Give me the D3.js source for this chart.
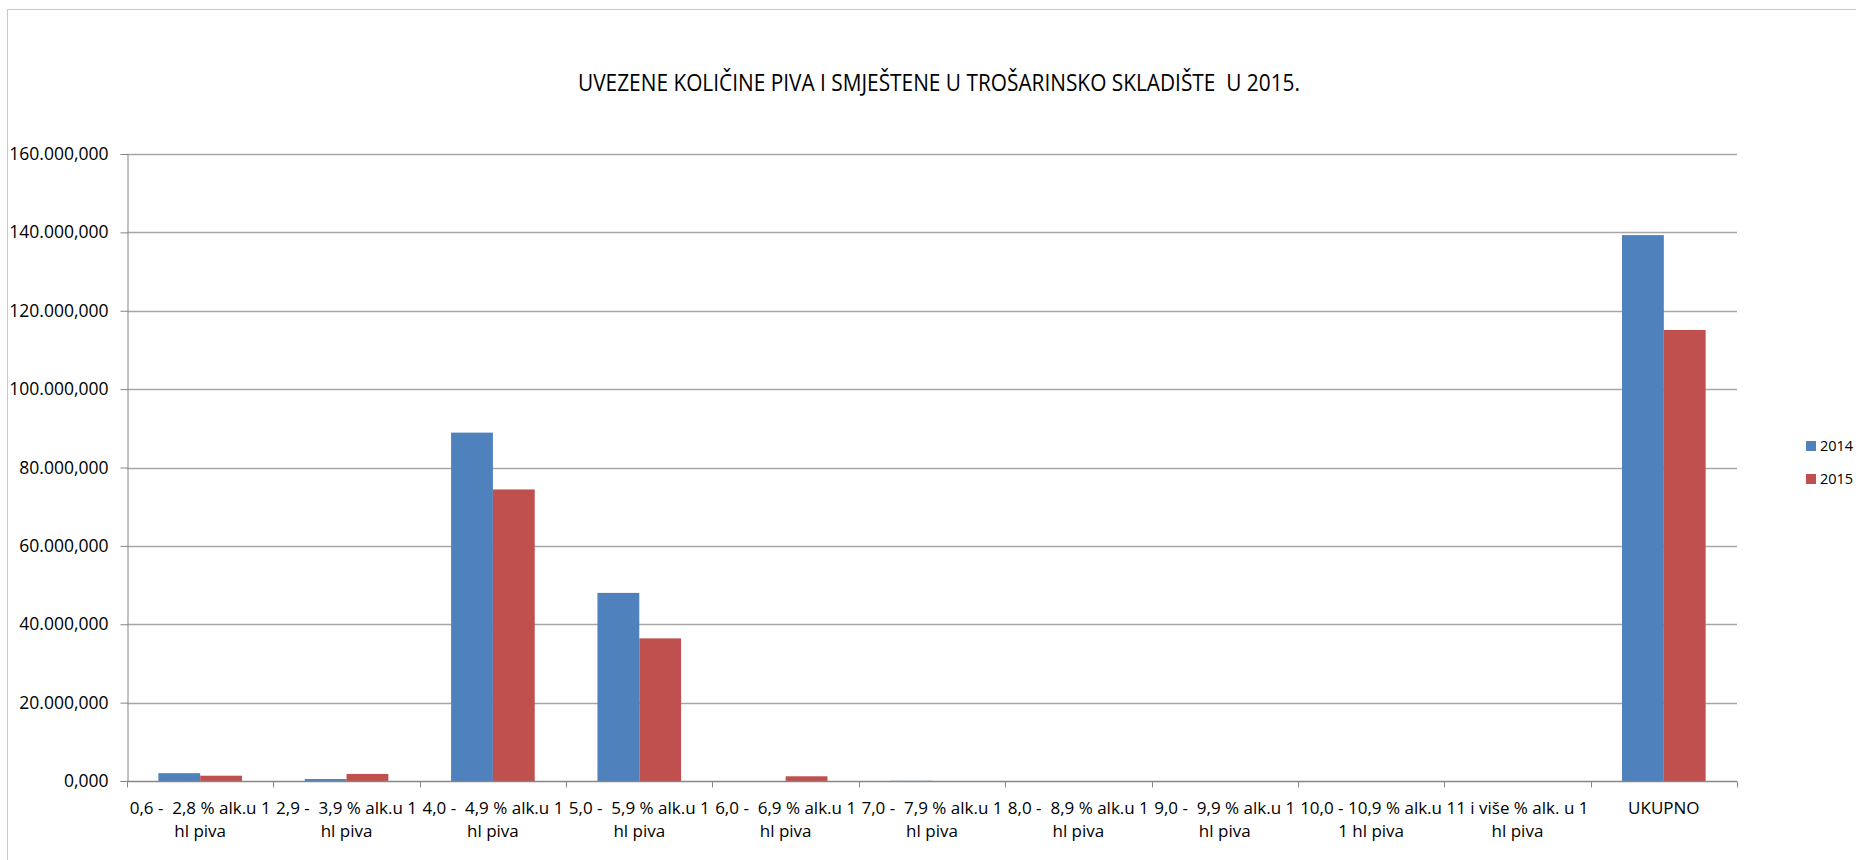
<!DOCTYPE html>
<html>
<head>
<meta charset="utf-8">
<script src="https://cdn.jsdelivr.net/npm/d3@7"></script>
<style>
  body { margin: 0; background: #fff; }
  svg { display: block; font-family: "Open Sans", sans-serif; }
</style>
</head>
<body>
<svg width="1856" height="860"></svg>
<script>
// Data
const categories = [
  "0,6 -  2,8 % alk.u 1\nhl piva",
  "2,9 -  3,9 % alk.u 1\nhl piva",
  "4,0 -  4,9 % alk.u 1\nhl piva",
  "5,0 -  5,9 % alk.u 1\nhl piva",
  "6,0 -  6,9 % alk.u 1\nhl piva",
  "7,0 -  7,9 % alk.u 1\nhl piva",
  "8,0 -  8,9 % alk.u 1\nhl piva",
  "9,0 -  9,9 % alk.u 1\nhl piva",
  "10,0 - 10,9 % alk.u\n1 hl piva",
  "11 i više % alk. u 1\nhl piva",
  "UKUPNO"
];
const series = ["2014", "2015"];
const values2014 = [2000, 500, 88900, 48000, 0, 50, 0, 0, 0, 0, 139300];
const values2015 = [1350, 1800, 74400, 36400, 1200, 0, 0, 0, 0, 0, 115100];
const yTicks = [0, 20000, 40000, 60000, 80000, 100000, 120000, 140000, 160000];
const colors = ["#4F81BD", "#C0504D"];
const title = "UVEZENE KOLIČINE PIVA I SMJEŠTENE U TROŠARINSKO SKLADIŠTE  U 2015.";

const svg = d3.select("svg");
const margin = { top: 154, right: 119, bottom: 79, left: 127 },
  width = 1856, height = 860;

// outer chart border
svg.append("rect")
  .attr("x", 7.5).attr("y", 9.5)
  .attr("width", 1900).attr("height", 900)
  .attr("fill", "none").attr("stroke", "#c8c8c8");

// title
svg.append("text")
  .attr("x", 578).attr("y", 91)
  .attr("textLength", 722).attr("lengthAdjust", "spacingAndGlyphs")
  .attr("font-size", 24).attr("fill", "#000")
  .style("white-space", "pre")
  .text(title);

// scales
const x = d3.scaleBand()
  .domain(categories)
  .range([margin.left, width - margin.right])
  .paddingInner(0).paddingOuter(0);

const xSub = d3.scaleBand()
  .domain(series)
  .range([0, x.bandwidth()])
  .paddingInner(0).paddingOuter(0.75);

const y = d3.scaleLinear()
  .domain([0, 160000])
  .range([height - margin.bottom, margin.top]);

const hr = d3.formatLocale({ decimal: ",", thousands: ".", grouping: [3], currency: ["", ""] });
const fmt = hr.format(",.3f");

// gridlines
svg.append("g")
  .selectAll("line")
  .data(yTicks.slice(1))
  .join("line")
  .attr("x1", margin.left).attr("x2", width - margin.right)
  .attr("y1", d => Math.round(y(d)) + 0.5).attr("y2", d => Math.round(y(d)) + 0.5)
  .attr("stroke", "#a6a6a6").attr("stroke-width", 1.3);

// y axis
const yAxis = svg.append("g")
  .attr("transform", `translate(${margin.left + 0.5},0)`)
  .call(d3.axisLeft(y).tickValues(yTicks).tickFormat(fmt).tickSize(7).tickPadding(12));
yAxis.select(".domain").attr("stroke", "#868686");
yAxis.selectAll(".tick line").attr("stroke", "#868686");
yAxis.selectAll("text").attr("font-size", 17.5).attr("fill", "#000")
  .attr("font-family", "Open Sans");

// bars
const rows = categories.map((c, i) => ({ cat: c, vals: [values2014[i], values2015[i]] }));
svg.append("g")
  .selectAll("g")
  .data(rows)
  .join("g")
  .attr("transform", d => `translate(${x(d.cat)},0)`)
  .selectAll("rect")
  .data(d => d.vals.map((v, j) => ({ key: series[j], v, j })))
  .join("rect")
  .attr("x", d => xSub(d.key))
  .attr("width", xSub.bandwidth())
  .attr("y", d => y(d.v))
  .attr("height", d => y(0) - y(d.v))
  .attr("fill", d => colors[d.j]);

// x axis
const xAxisG = svg.append("g")
  .attr("transform", `translate(0,${height - margin.bottom + 0.5})`);
xAxisG.append("line")
  .attr("x1", margin.left).attr("x2", width - margin.right)
  .attr("stroke", "#868686").attr("stroke-width", 1.3);
const bounds = categories.map(c => x(c)).concat([width - margin.right]);
xAxisG.selectAll(".tk")
  .data(bounds)
  .join("line")
  .attr("class", "tk")
  .attr("x1", d => Math.round(d) + 0.5).attr("x2", d => Math.round(d) + 0.5)
  .attr("y1", 0).attr("y2", 6)
  .attr("stroke", "#868686");

const labels = xAxisG.selectAll(".lbl")
  .data(categories)
  .join("text")
  .attr("class", "lbl")
  .attr("x", d => x(d) + x.bandwidth() / 2)
  .attr("text-anchor", "middle")
  .attr("font-size", 17)
  .attr("fill", "#000")
  .style("white-space", "pre");
labels.selectAll("tspan")
  .data(d => d.split("\n").map((t, i) => ({ t, i })))
  .join("tspan")
  .attr("x", function () { return d3.select(this.parentNode).attr("x"); })
  .attr("y", d => 32 + d.i * 23)
  .text(d => d.t);

// legend
const legend = svg.append("g")
  .selectAll("g")
  .data(series)
  .join("g")
  .attr("transform", (d, i) => `translate(1806,${441 + i * 33})`);
legend.append("rect")
  .attr("width", 10).attr("height", 10)
  .attr("fill", (d, i) => colors[i]);
legend.append("text")
  .attr("x", 14).attr("y", 5).attr("dy", "0.35em")
  .attr("font-size", 14.5).attr("fill", "#000")
  .text(d => d);
</script>
</body>
</html>
